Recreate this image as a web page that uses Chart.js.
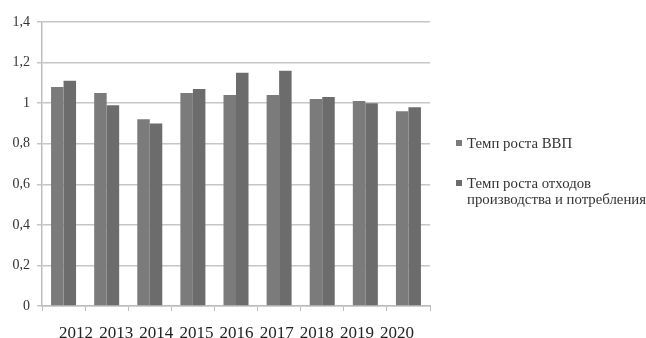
<!DOCTYPE html>
<html>
<head>
<meta charset="utf-8">
<script src="https://cdn.jsdelivr.net/npm/chart.js@4/dist/chart.umd.min.js"></script>
<style>
  body { margin: 0; background: #fff; }
  #wrap { position: relative; width: 646px; height: 338px; }
  #legend { position: absolute; left: 456px; top: 135px; font-family: "Liberation Serif", serif; font-size: 14.8px; color: #333; white-space: nowrap; }
  .item { position: relative; padding-left: 11px; line-height: 16px; margin-bottom: 24px; }
  .item span { position: absolute; left: 0; top: 5px; width: 6px; height: 6px; }
</style>
</head>
<body>
<div id="wrap">
  <canvas id="chart" width="646" height="338"></canvas>
  <div id="legend"></div>
</div>
<script>
const years = ['2012', '2013', '2014', '2015', '2016', '2017', '2018', '2019', '2020'];
const seriesNames = ['Темп роста ВВП', 'Темп роста отходов производства и потребления'];
const gdpGrowth = [1.08, 1.05, 0.92, 1.05, 1.04, 1.04, 1.02, 1.01, 0.96];
const wasteGrowth = [1.11, 0.99, 0.90, 1.07, 1.15, 1.16, 1.03, 1.00, 0.98];
const yTicks = [0, 0.2, 0.4, 0.6, 0.8, 1, 1.2, 1.4];
const colors = ['#7b7b7b', '#6c6c6c'];

const ctx = document.getElementById('chart').getContext('2d');
new Chart(ctx, {
    type: 'bar',
    data: {
        labels: years,
        datasets: [
            { label: seriesNames[0], data: gdpGrowth, backgroundColor: colors[0] },
            { label: seriesNames[1], data: wasteGrowth, backgroundColor: colors[1] }
        ]
    },
    options: {
        responsive: false,
        animation: false,
        layout: { padding: { top: 22, right: 216, left: 0, bottom: 0 } },
        plugins: { legend: { display: false }, tooltip: { enabled: false } },
        datasets: { bar: { categoryPercentage: 0.58, barPercentage: 1 } },
        scales: {
            x: {
                afterFit: s => { s.height = 5; },
                grid: { offset: true, drawOnChartArea: false, color: '#bdbdbd', tickLength: 5, lineWidth: 1 },
                border: { color: '#bdbdbd', width: 1.5 },
                ticks: { display: false }
            },
            // label row: the year captions sit a little tighter than the bars in the original
            x2: {
                type: 'linear',
                position: 'bottom',
                offset: false,
                min: -0.847, max: 8.82,
                afterFit: s => { s.height = 27; },
                afterBuildTicks: s => { s.ticks = years.map((y, i) => ({ value: i })); },
                grid: { display: false, offset: false },
                border: { display: false },
                ticks: {
                    color: '#222',
                    font: { family: 'Liberation Serif', size: 17 },
                    padding: 4,
                    maxRotation: 0,
                    autoSkip: false,
                    callback: v => years[v]
                }
            },
            y: {
                min: 0, max: 1.4,
                afterFit: s => { s.width = 42; },
                afterBuildTicks: s => { s.ticks = yTicks.map(v => ({ value: v })); },
                grid: { color: '#c6c6c6', lineWidth: 1.5, tickLength: 5 },
                border: { color: '#bdbdbd', width: 1.5 },
                ticks: {
                    color: '#333',
                    font: { family: 'Liberation Serif', size: 14 },
                    padding: 7,
                    callback: v => String(v).replace('.', ',')
                }
            }
        }
    }
});

const legend = document.getElementById('legend');
seriesNames.forEach((name, i) => {
    const d = document.createElement('div');
    d.className = 'item';
    d.innerHTML = '<span style="background:' + colors[i] + '"></span>' + (i === 1 ? 'Темп роста отходов<br>производства и потребления' : name);
    legend.appendChild(d);
});
</script>
</body>
</html>
